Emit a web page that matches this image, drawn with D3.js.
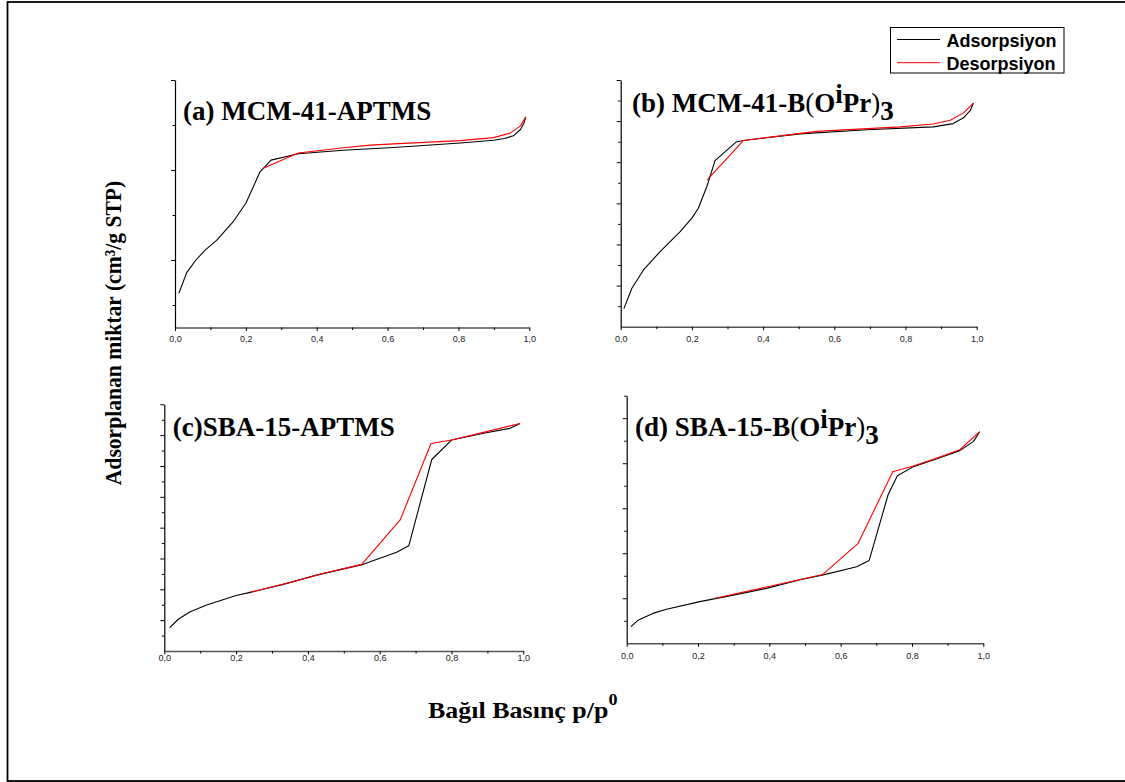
<!DOCTYPE html>
<html><head><meta charset="utf-8">
<script src="https://cdn.jsdelivr.net/npm/d3@7"></script>
<style>body{margin:0;background:#fff}svg{display:block}</style>
</head><body>
<svg id="c" width="1125" height="782"></svg>
<script>
// ---- shared x ticks ----
const xMajor = [0, 0.2, 0.4, 0.6, 0.8, 1.0];
const xMinor = [0.1, 0.3, 0.5, 0.7, 0.9];
const xTickLabels = ["0,0", "0,2", "0,4", "0,6", "0,8", "1,0"];

// ---- legend ----
const seriesNames = ["Adsorpsiyon", "Desorpsiyon"];
const seriesColors = ["#000000", "#ff0000"];

// ---- (a) MCM-41-APTMS ----
const aAdsP = [0.011,0.033,0.059,0.085,0.118,0.165,0.2,0.24,0.271,0.348,0.475,0.617,0.805,0.899,0.93,0.955,0.975,0.985,0.99];
const aAdsV = [63,86,100,111,122,143,163,198,211,218,222,225,230,233,235,238,245,252,259];
const aDesP = [0.99,0.975,0.946,0.899,0.805,0.617,0.551,0.475,0.348,0.249];
const aDesV = [259,249,241,236,232.6,229,227.6,224.8,218.9,202];
const aMajor = [100, 200, 300];
const aMinor = [50, 150, 250];

// ---- (b) MCM-41-B(OiPr)3 ----
const bAdsP = [0.009,0.031,0.064,0.110,0.167,0.2,0.218,0.242,0.265,0.324,0.345,0.504,0.691,0.878,0.934,0.963,0.982,0.991];
const bAdsV = [44,93,138,182,231,264,288,341,404,449,453,469,479,486,494,508,526,544];
const bDesP = [0.991,0.963,0.926,0.878,0.785,0.55,0.345,0.243];
const bDesV = [544,520,502,493,486,475,453,357];
const bMajor = [100, 200, 300, 400, 500, 600];
const bMinor = [50, 150, 250, 350, 450, 550];

// ---- (c) SBA-15-APTMS ----
const cAdsP = [0.015,0.039,0.072,0.118,0.2,0.239,0.331,0.424,0.554,0.647,0.681,0.745,0.8,0.889,0.963,0.991];
const cAdsV = [76,103,127,149,180,190,216,246,281,320,341,621,684,706,722,738];
const cDesP = [0.991,0.889,0.8,0.743,0.657,0.55,0.45,0.35,0.24];
const cDesV = [738,709,684,673,425,281,254,222,191];
const cMajor = [100, 200, 300, 400, 500, 600, 700, 800];
const cMinor = [50, 150, 250, 350, 450, 550, 650, 750];

// ---- (d) SBA-15-B(OiPr)3 ----
const dAdsP = [0.012,0.033,0.075,0.112,0.205,0.299,0.392,0.486,0.551,0.645,0.68,0.733,0.759,0.804,0.86,0.934,0.972,0.99];
const dAdsV = [37,52,67,75.5,92.5,107,122,141,152,170,184,330,372,392.5,407,428,448,470];
const dDesP = [0.99,0.934,0.86,0.804,0.746,0.649,0.55,0.392,0.248];
const dDesV = [470,430,409,394,381,222,153,125,100];
const dMajor = [100, 200, 300, 400, 500];
const dMinor = [50, 150, 250, 350, 450, 550];

// ---- layout ----
const panels = [
  {left:175, right:529.3, top:80, bottom:327.5, yDomain:[25,300], major:aMajor, minor:aMinor,
   ads:[aAdsP,aAdsV], des:[aDesP,aDesV], pad:4.5,
   title:{x:183, y:120, parts:[{t:"(a) MCM-41-APTMS"}]}},
  {left:620.7, right:976.7, top:80, bottom:326.7, yDomain:[0,600], major:bMajor, minor:bMinor,
   ads:[bAdsP,bAdsV], des:[bDesP,bDesV], pad:5,
   title:{x:632, y:111.7, parts:[{t:"(b) MCM-41-B"},{t:"(",w:"normal"},{t:"O"},{t:"i",dy:-8.5},{t:"Pr",dy:8.5},{t:")",w:"normal"},{t:"3",dy:8}]}},
  {left:164.3, right:523.3, top:404.3, bottom:651, yDomain:[0,800], major:cMajor, minor:cMinor,
   ads:[cAdsP,cAdsV], des:[cDesP,cDesV], pad:0,
   title:{x:172.7, y:436, parts:[{t:"(c)SBA-15-APTMS"}]}},
  {left:626.7, right:983.3, top:395.7, bottom:643.3, yDomain:[0,550], major:dMajor, minor:dMinor,
   ads:[dAdsP,dAdsV], des:[dDesP,dDesV], pad:6,
   title:{x:635, y:436, parts:[{t:"(d) SBA-15-B"},{t:"(",w:"normal"},{t:"O"},{t:"i",dy:-8.5},{t:"Pr",dy:8.5},{t:")",w:"normal"},{t:"3",dy:8}]}}
];

const svg = d3.select("#c");
svg.append("rect").attr("x",7.5).attr("y",2).attr("width",1130).attr("height",779)
  .attr("fill","none").attr("stroke","#000").attr("stroke-width",1.8);

panels.forEach(p => {
  const x = d3.scaleLinear().domain([0,1]).range([p.left,p.right]);
  const y = d3.scaleLinear().domain(p.yDomain).range([p.bottom,p.top]);
  const g = svg.append("g");

  // y axis (no labels)
  const yMinorG = g.append("g").attr("transform",`translate(${p.left},0)`)
    .call(d3.axisLeft(y).tickValues(p.minor.filter(v=>v>=p.yDomain[0]&&v<=p.yDomain[1])).tickSize(2.5).tickSizeOuter(0).tickFormat(""));
  yMinorG.select(".domain").attr("stroke","#000").attr("stroke-width",1.2);
  const yMajorG = g.append("g").attr("transform",`translate(${p.left},0)`)
    .call(d3.axisLeft(y).tickValues(p.major.filter(v=>v>=p.yDomain[0]&&v<=p.yDomain[1])).tickSize(4).tickSizeOuter(0).tickFormat(""));
  yMajorG.select(".domain").remove();
  g.selectAll(".tick line").attr("stroke","#000").attr("stroke-width",1);

  // x axis
  const xMinorG = g.append("g").attr("transform",`translate(0,${p.bottom})`)
    .call(d3.axisBottom(x).tickValues(xMinor).tickSize(2.5).tickSizeOuter(0).tickFormat(""));
  xMinorG.select(".domain").attr("stroke","#555").attr("stroke-width",1.5);
  xMinorG.selectAll(".tick line").attr("stroke","#000");
  const xMajorG = g.append("g").attr("transform",`translate(0,${p.bottom})`)
    .call(d3.axisBottom(x).tickValues(xMajor).tickSize(3.5).tickSizeOuter(0).tickPadding(p.pad)
      .tickFormat((d,i)=>xTickLabels[i]));
  xMajorG.select(".domain").remove();
  xMajorG.selectAll(".tick line").attr("stroke","#000");
  xMajorG.selectAll("text").attr("font-family","Liberation Sans, Arial, sans-serif")
    .attr("font-size",9).attr("fill","#222");

  // lines
  const line = d3.line().x(d=>x(d[0])).y(d=>y(d[1]));
  const adsPts = d3.zip(p.ads[0], p.ads[1]);
  const desPts = d3.zip(p.des[0], p.des[1]);
  g.append("path").datum(adsPts).attr("d",line).attr("fill","none")
    .attr("stroke",seriesColors[0]).attr("stroke-width",1.1).attr("stroke-linejoin","round");
  g.append("path").datum(desPts).attr("d",line).attr("fill","none")
    .attr("stroke",seriesColors[1]).attr("stroke-width",1.1).attr("stroke-linejoin","round");

  // title
  const t = g.append("text").attr("x",p.title.x).attr("y",p.title.y)
    .attr("font-family","Liberation Serif, Times New Roman, serif").attr("font-weight","bold")
    .attr("font-size",27).attr("fill","#000");
  p.title.parts.forEach(pt => {
    const s = t.append("tspan").text(pt.t);
    if (pt.dy) s.attr("dy",pt.dy);
    if (pt.w) s.attr("font-weight",pt.w);
  });
});

// y axis title
svg.append("text").attr("transform","translate(121,333) rotate(-90) scale(0.94,1)")
  .attr("text-anchor","middle").attr("font-family","Liberation Serif, Times New Roman, serif")
  .attr("font-weight","bold").attr("font-size",23).text("Adsorplanan miktar (cm³/g STP)");

// x axis title
const xt = svg.append("text").attr("transform","translate(428,718.3) scale(1.13,1)")
  .attr("font-family","Liberation Serif, Times New Roman, serif")
  .attr("font-weight","bold").attr("font-size",23);
xt.append("tspan").text("Bağıl Basınç p/p");
xt.append("tspan").attr("dy",-13).attr("font-size",16).text("0");

// legend
const lg = svg.append("g");
lg.append("rect").attr("x",890.5).attr("y",27.5).attr("width",173.5).attr("height",45.5)
  .attr("fill","#fff").attr("stroke","#000").attr("stroke-width",1);
seriesNames.forEach((n,i)=>{
  const yy = 39.5 + i*23.2;
  lg.append("line").attr("x1",897).attr("x2",940).attr("y1",yy).attr("y2",yy)
    .attr("stroke",seriesColors[i]).attr("stroke-width",1);
  lg.append("text").attr("x",946.5).attr("y",yy+7.2)
    .attr("font-family","Liberation Sans, Arial, sans-serif").attr("font-weight","bold")
    .attr("font-size",18).attr("fill","#000").text(n);
});
</script>
</body></html>
